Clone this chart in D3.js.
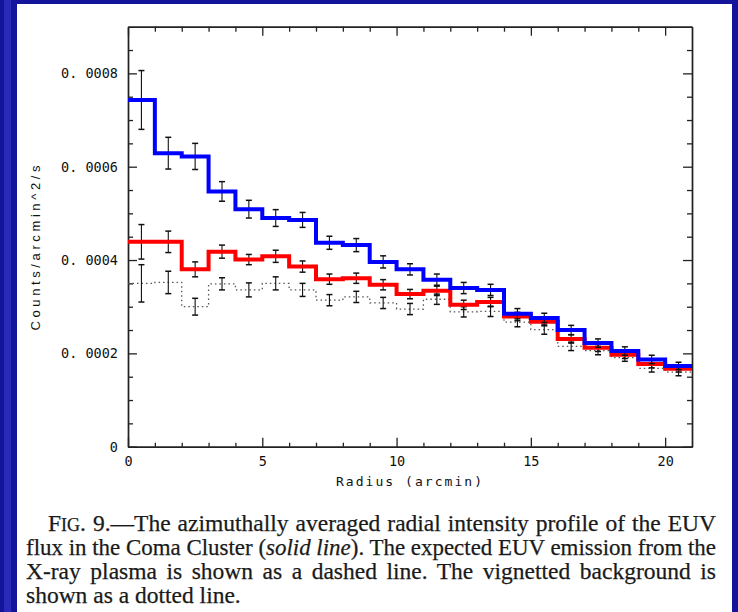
<!DOCTYPE html>
<html>
<head>
<meta charset="utf-8">
<script src="https://cdn.jsdelivr.net/npm/d3@7/dist/d3.min.js"></script>
<style>
  html, body { margin: 0; padding: 0; background: #14149a; }
  svg { display: block; }
</style>
</head>
<body>
<svg id="chart" width="738" height="612"></svg>
<script>
// ---- Data ----
const binStarts = [0,1,2,3,4,5,6,7,8,9,10,11,12,13,14,15,16,17,18,19,20];
const binWidth = 1;
// EUV flux (blue solid)
const euvFlux = [0.000743,0.000629,0.000622,0.000547,0.000509,0.000490,0.000486,0.000437,0.000432,0.000396,0.000380,0.000358,0.000340,0.000336,0.000285,0.000276,0.000250,0.000222,0.000205,0.000187,0.000173];
const euvErr  = [0.000063,0.000034,0.000028,0.000021,0.000019,0.000018,0.000016,0.000014,0.000014,0.000013,0.000012,0.000012,0.000012,0.000012,0.000011,0.000010,0.000010,0.000009,0.000009,0.000009,0.000008];
// Expected EUV from X-ray plasma (red)
const xrayFlux = [0.000439,0.000439,0.000380,0.000418,0.000401,0.000408,0.000386,0.000359,0.000361,0.000347,0.000327,0.000334,0.000304,0.000310,0.000279,0.000268,0.000231,0.000212,0.000197,0.000177,0.000167];
const xrayErr  = [0.000037,0.000023,0.000016,0.000014,0.000011,0.000013,0.000012,0.000011,0.000011,0.000011,0.000010,0.000010,0.000010,0.000010,0.000009,0.000009,0.000009,0.000008,0.000008,0.000008,0.000007];
// Vignetted background (dotted)
const bgFlux = [0.000350,0.000352,0.000300,0.000349,0.000336,0.000350,0.000336,0.000314,0.000321,0.000308,0.000295,0.000316,0.000289,0.000290,0.000267,0.000251,0.000215,0.000206,0.000191,0.000168,0.000160];
const bgErr  = [0.000040,0.000024,0.000018,0.000013,0.000015,0.000014,0.000014,0.000012,0.000012,0.000012,0.000012,0.000011,0.000011,0.000011,0.000010,0.000010,0.000009,0.000009,0.000008,0.000008,0.000008];

const xMajorTicks = [0,5,10,15,20];
const xMinorTicks = [1,2,3,4,6,7,8,9,11,12,13,14,16,17,18,19];
const yMajorTicks = [0,0.0002,0.0004,0.0006,0.0008];
const yTickLabels = ["0","0. 0002","0. 0004","0. 0006","0. 0008"];
const yMinorTicks = [0.00005,0.0001,0.00015,0.00025,0.0003,0.00035,0.00045,0.0005,0.00055,0.00065,0.0007,0.00075,0.00085];
const xDomain = [0,21];
const yDomain = [0,0.0009];

const xLabel = "Radius (arcmin)";
const yLabel = "Counts/arcmin^2/s";

// ---- Layout ----
const svg = d3.select("#chart");
const W = 738, H = 612;
const L = 128, R = 692, T = 26.7, B = 446.7;

// background
svg.append("rect").attr("x",0).attr("y",0).attr("width",W).attr("height",H).attr("fill","#14149a");
svg.append("rect").attr("x",4).attr("y",0).attr("width",7).attr("height",H).attr("fill","#2a2ab8");
svg.append("rect").attr("x",17).attr("y",4).attr("width",715).attr("height",H-4).attr("fill","#ffffff");

const x = d3.scaleLinear().domain(xDomain).range([L,R]);
const y = d3.scaleLinear().domain(yDomain).range([B,T]);

const axisColor = "#222";
const monoFont = "'DejaVu Sans Mono', 'Liberation Mono', monospace";

function styleAxis(g){
  g.selectAll("path.domain").attr("stroke",axisColor).attr("stroke-width",1.4);
  g.selectAll(".tick line").attr("stroke",axisColor).attr("stroke-width",1.3);
  g.selectAll(".tick text").attr("fill","#111").style("font-family",monoFont).style("font-size","13.5px");
}

// bottom
svg.append("g").attr("transform",`translate(0,${B})`)
  .call(d3.axisBottom(x).tickValues(xMinorTicks).tickSize(-4).tickSizeOuter(0).tickFormat(""))
  .call(styleAxis);
svg.append("g").attr("transform",`translate(0,${B})`)
  .call(d3.axisBottom(x).tickValues(xMajorTicks).tickSize(-9).tickSizeOuter(0).tickPadding(10).tickFormat(d3.format("d")))
  .call(styleAxis);
// top
svg.append("g").attr("transform",`translate(0,${T})`)
  .call(d3.axisTop(x).tickValues(xMinorTicks).tickSize(-5).tickSizeOuter(0).tickFormat(""))
  .call(styleAxis);
svg.append("g").attr("transform",`translate(0,${T})`)
  .call(d3.axisTop(x).tickValues(xMajorTicks).tickSize(-9).tickSizeOuter(0).tickFormat(""))
  .call(styleAxis);
// left
svg.append("g").attr("transform",`translate(${L},0)`)
  .call(d3.axisLeft(y).tickValues(yMinorTicks).tickSize(-5).tickSizeOuter(0).tickFormat(""))
  .call(styleAxis);
svg.append("g").attr("transform",`translate(${L},0)`)
  .call(d3.axisLeft(y).tickValues(yMajorTicks).tickSize(-9).tickSizeOuter(0).tickPadding(10)
        .tickFormat((d,i)=>yTickLabels[i]))
  .call(styleAxis);
// right
svg.append("g").attr("transform",`translate(${R},0)`)
  .call(d3.axisRight(y).tickValues(yMinorTicks).tickSize(-5).tickSizeOuter(0).tickFormat(""))
  .call(styleAxis);
svg.append("g").attr("transform",`translate(${R},0)`)
  .call(d3.axisRight(y).tickValues(yMajorTicks).tickSize(-9).tickSizeOuter(0).tickFormat(""))
  .call(styleAxis);

// axis labels
svg.append("text").attr("x",409).attr("y",486).attr("text-anchor","middle")
  .attr("textLength",146).attr("lengthAdjust","spacing")
  .style("font-family",monoFont).style("font-size","13px").attr("fill","#111").text(xLabel);
svg.append("text").attr("transform","translate(40,248) rotate(-90)").attr("text-anchor","middle")
  .attr("textLength",165).attr("lengthAdjust","spacing")
  .style("font-family","'Liberation Sans', Arial, sans-serif").style("font-size","13px").attr("fill","#111").text(yLabel);

// ---- Series ----
function stepData(vals){
  const pts = binStarts.map((b,i)=>[b, vals[i]]);
  pts.push([binStarts[binStarts.length-1]+binWidth, vals[vals.length-1]]);
  return pts;
}
const stepLine = d3.line().x(d=>x(d[0])).y(d=>y(d[1])).curve(d3.curveStepAfter);

function errorBars(vals, errs){
  const g = svg.append("g").attr("stroke","#111").attr("fill","none");
  binStarts.forEach((b,i)=>{
    const cx = x(b + binWidth/2);
    const y1 = y(vals[i]+errs[i]), y0 = y(vals[i]-errs[i]);
    g.append("line").attr("x1",cx).attr("x2",cx).attr("y1",y1).attr("y2",y0).attr("stroke-width",1.1);
    g.append("line").attr("x1",cx-3).attr("x2",cx+3).attr("y1",y1).attr("y2",y1).attr("stroke-width",1.5);
    g.append("line").attr("x1",cx-3).attr("x2",cx+3).attr("y1",y0).attr("y2",y0).attr("stroke-width",1.5);
  });
}

// dotted background
svg.append("path").datum(stepData(bgFlux)).attr("d",stepLine)
  .attr("fill","none").attr("stroke","#555").attr("stroke-width",1.3).attr("stroke-dasharray","1.5,3");
errorBars(bgFlux, bgErr);

// red
errorBars(xrayFlux, xrayErr);
svg.append("path").datum(stepData(xrayFlux)).attr("d",stepLine)
  .attr("fill","none").attr("stroke","#ff0000").attr("stroke-width",4);

// blue
errorBars(euvFlux, euvErr);
svg.append("path").datum(stepData(euvFlux)).attr("d",stepLine)
  .attr("fill","none").attr("stroke","#0000ff").attr("stroke-width",4);

// ---- Caption ----
const serif = "'Liberation Serif', 'Times New Roman', serif";
const cap = svg.append("g").attr("fill","#1a1a1a").attr("stroke","#1a1a1a").attr("stroke-width",0.25)
  .style("font-family",serif).style("font-size","23.5px");

function justify(textSel, target){
  const node = textSel.node();
  const w = node.getComputedTextLength();
  const str = node.textContent;
  const spaces = (str.match(/ /g) || []).length;
  if (spaces > 0 && w < target) textSel.attr("word-spacing", ((target - w) / spaces).toFixed(2) + "px");
  else if (w > target) textSel.attr("textLength", target).attr("lengthAdjust","spacingAndGlyphs");
}

const l1 = cap.append("text").attr("x",48).attr("y",531);
l1.append("tspan").text("F");
l1.append("tspan").style("font-size","18px").text("IG");
l1.append("tspan").text(". 9.\u2014The azimuthally averaged radial intensity profile of the EUV");
justify(l1, 668);
const l2 = cap.append("text").attr("x",26).attr("y",555);
l2.append("tspan").text("flux in the Coma Cluster (");
l2.append("tspan").style("font-style","italic").text("solid line");
l2.append("tspan").text("). The expected EUV emission from the");
justify(l2, 690);
const l3 = cap.append("text").attr("x",26).attr("y",579)
  .text("X-ray plasma is shown as a dashed line. The vignetted background is");
justify(l3, 690);
cap.append("text").attr("x",26).attr("y",603).text("shown as a dotted line.");
</script>
</body>
</html>
